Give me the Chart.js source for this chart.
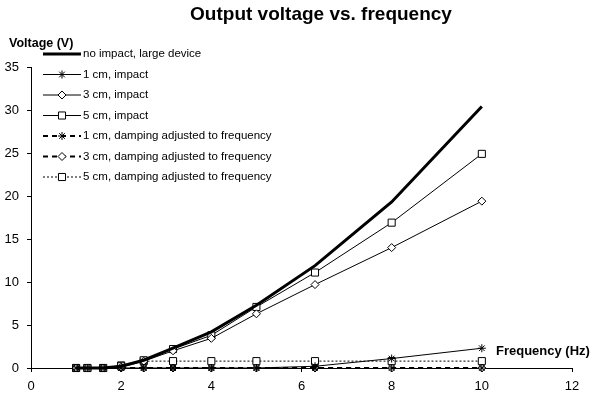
<!DOCTYPE html>
<html>
<head>
<meta charset="utf-8">
<script src="https://cdn.jsdelivr.net/npm/chart.js@4/dist/chart.umd.min.js"></script>
<style>
  html, body { margin: 0; padding: 0; background: #fff; }
  canvas { display: block; }
</style>
</head>
<body>
<canvas id="voltageChart" width="591" height="399"></canvas>
<script>
// frequencies (Hz), 1/3-octave steps
const freqs = [1, 1.25, 1.6, 2, 2.5, 3.15, 4, 5, 6.3, 8, 10];

// output voltage (V)
const largeDevice = [0, 0, 0, 0.2, 0.9, 2.3, 4.2, 7.3, 11.9, 19.3, 30.4];
const impact1cm   = [0, 0, 0, 0, 0, 0, 0, 0, 0.2, 1.1, 2.3];
const impact3cm   = [0, 0, 0, 0.1, 0.8, 2.0, 3.45, 6.3, 9.7, 14.0, 19.4];
const impact5cm   = [0, 0, 0, 0.2, 0.9, 2.2, 3.8, 7.1, 11.1, 16.9, 24.9];
const damped1cm   = [0, 0, 0, 0, 0, 0, 0, 0, 0, 0, 0];
const damped3cm   = [0, 0, 0, 0, 0, 0, 0, 0, 0, 0, 0];
const damped5cm   = [0, 0, 0, 0.3, 0.8, 0.8, 0.8, 0.8, 0.8, 0.8, 0.8];

const xTicks = [0, 2, 4, 6, 8, 10, 12];
const yTicks = [0, 5, 10, 15, 20, 25, 30, 35];

const FONT = '"Liberation Sans", Arial, sans-serif';

function toPoints(values) {
    return freqs.map((f, i) => ({ x: f, y: values[i] }));
}

function series(label, values, style) {
    return Object.assign({
        label: label,
        data: toPoints(values),
        borderColor: '#000',
        backgroundColor: '#fff',
        pointBorderColor: '#000',
        pointBackgroundColor: '#fff',
        pointBorderWidth: 1,
        borderWidth: 1,
        tension: 0,
        fill: false,
        clip: false
    }, style);
}

const datasets = [
    series('no impact, large device', largeDevice, { borderWidth: 3, pointRadius: 0 }),
    series('1 cm, impact', impact1cm, { pointStyle: 'star', pointRadius: 4 }),
    series('3 cm, impact', impact3cm, { pointStyle: 'rectRot', pointRadius: 4 }),
    series('5 cm, impact', impact5cm, { pointStyle: 'rect', pointRadius: 5 }),
    series('1 cm, damping adjusted to frequency', damped1cm, { borderWidth: 2, borderDash: [5, 4], pointStyle: 'star', pointRadius: 4 }),
    series('3 cm, damping adjusted to frequency', damped3cm, { borderWidth: 2, borderDash: [5, 4], pointStyle: 'rectRot', pointRadius: 4 }),
    series('5 cm, damping adjusted to frequency', damped5cm, { borderWidth: 1, borderDash: [2, 2], pointStyle: 'rect', pointRadius: 5 })
];

function drawMarker(ctx, ds, x, y) {
    if (!ds.pointRadius) return;
    ctx.save();
    ctx.setLineDash([]);
    ctx.lineWidth = 1;
    ctx.strokeStyle = '#000';
    ctx.fillStyle = '#fff';
    if (Chart.helpers && Chart.helpers.drawPoint) {
        Chart.helpers.drawPoint(ctx, { pointStyle: ds.pointStyle, radius: ds.pointRadius, rotation: 0, borderWidth: 1 }, x, y);
    }
    ctx.restore();
}

// title, axis titles and the legend box (Excel-style line samples)
const decorations = {
    id: 'decorations',
    afterDraw(chart) {
        const ctx = chart.ctx;
        ctx.save();
        ctx.fillStyle = '#000';
        ctx.textBaseline = 'middle';

        ctx.font = 'bold 19px ' + FONT;
        ctx.textAlign = 'center';
        ctx.fillText('Output voltage vs. frequency', 321, 15);

        ctx.textAlign = 'left';
        ctx.font = 'bold 12.5px ' + FONT;
        ctx.fillText('Voltage (V)', 9, 44);
        ctx.font = 'bold 13px ' + FONT;
        ctx.fillText('Frequency (Hz)', 496, 351);

        ctx.font = '11.5px ' + FONT;
        chart.data.datasets.forEach((ds, i) => {
            const y = 54 + i * 20.5;
            ctx.save();
            ctx.strokeStyle = '#000';
            ctx.lineWidth = ds.borderWidth;
            ctx.setLineDash(ds.borderDash || []);
            ctx.beginPath();
            ctx.moveTo(43, y);
            ctx.lineTo(81, y);
            ctx.stroke();
            ctx.restore();
            drawMarker(ctx, ds, 62, y);
            ctx.fillStyle = '#000';
            ctx.fillText(ds.label, 83, y);
        });
        ctx.restore();
    }
};

new Chart(document.getElementById('voltageChart'), {
    type: 'line',
    data: { datasets: datasets },
    plugins: [decorations],
    options: {
        responsive: false,
        animation: false,
        layout: { padding: { top: 67, right: 19, left: 0, bottom: 0 } },
        plugins: {
            legend: { display: false },
            tooltip: { enabled: false }
        },
        scales: {
            x: {
                type: 'linear',
                min: 0,
                max: 12,
                afterBuildTicks: s => { s.ticks = xTicks.map(v => ({ value: v })); },
                afterFit: s => { s.height = 31; },
                grid: { drawOnChartArea: false, drawTicks: true, tickLength: 4, color: '#000' },
                border: { color: '#000', width: 1 },
                ticks: { color: '#000', font: { family: FONT, size: 13 }, padding: 7, maxRotation: 0 }
            },
            y: {
                min: 0,
                max: 35,
                afterBuildTicks: s => { s.ticks = yTicks.map(v => ({ value: v })); },
                afterFit: s => { s.width = 31; },
                grid: { drawOnChartArea: false, drawTicks: true, tickLength: 4, color: '#000' },
                border: { color: '#000', width: 1 },
                ticks: { color: '#000', font: { family: FONT, size: 13 }, padding: 8 }
            }
        }
    }
});
</script>
</body>
</html>
